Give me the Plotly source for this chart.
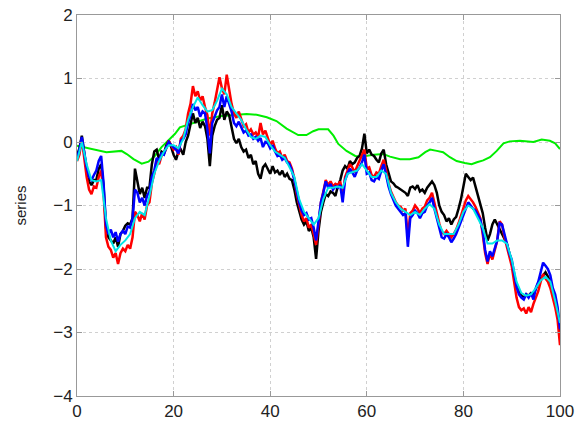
import numpy as np
import plotly.graph_objects as go

# Sample grid for the three noisy paths (step 0.5 from 0 to 100)
x_fine = np.arange(0, 100.5, 0.5)

red_vals = [
    -0.3, -0.2, 0.05, -0.25, -0.55, -0.75, -0.82, -0.7, -0.72, -0.55,
    -0.45, -0.8, -1.5, -1.65, -1.7, -1.82, -1.75, -1.92, -1.75, -1.68,
    -1.72, -1.62, -1.68, -1.5, -1.1, -1.15, -1.25, -1.12, -1.22, -1.0,
    -0.95, -0.65, -0.5, -0.3, -0.35, -0.22, -0.18, -0.1, 0.02, -0.05,
    -0.12, -0.08, -0.2, 0.05, 0.1, 0.2, 0.45, 0.6, 0.88, 0.72,
    0.8, 0.65, 0.72, 0.55, 0.42, 0.1, 0.45, 0.62, 0.8, 1.02,
    0.85, 0.75, 1.06, 0.82, 0.6, 0.45, 0.38, 0.48, 0.35, 0.25,
    0.28, 0.15, 0.2, 0.12, 0.15, 0.08, 0.3, 0.12, 0.18, 0.05,
    -0.05, 0.02, -0.1, -0.18, -0.15, -0.25, -0.2, -0.3, -0.32, -0.42,
    -0.58, -0.82, -1.0, -1.15, -1.25, -1.2, -1.35, -1.3, -1.45, -1.62,
    -1.3, -0.95, -0.78, -0.6, -0.68, -0.62, -0.7, -0.66, -0.68, -0.62,
    -0.85, -0.55, -0.45, -0.35, -0.4, -0.48, -0.38, -0.3, -0.22, -0.12,
    -0.42, -0.4, -0.52, -0.55, -0.48, -0.5, -0.38, -0.28, -0.45, -0.65,
    -0.78, -0.88, -0.95, -1.0, -1.02, -1.08, -1.05, -1.5, -1.12, -1.08,
    -1.0, -1.05, -1.12, -1.05, -1.02, -0.92, -0.88, -0.8, -0.98, -1.12,
    -1.28, -1.42, -1.45, -1.4, -1.45, -1.5, -1.45, -1.38, -1.28, -1.15,
    -1.02, -0.92, -0.85, -0.9, -0.95, -1.02, -1.1, -1.2, -1.45, -1.75,
    -1.92, -1.75, -1.85, -1.72, -1.55, -1.25, -1.3, -1.5, -1.65, -1.8,
    -1.95, -2.2, -2.45, -2.6, -2.65, -2.62, -2.7, -2.6, -2.68, -2.55,
    -2.45, -2.35, -2.2, -2.08, -2.15, -2.2, -2.3, -2.45, -2.6, -2.8,
    -3.2,
]

black_vals = [
    -0.22, -0.1, 0.1, -0.2, -0.45, -0.62, -0.68, -0.6, -0.6, -0.42,
    -0.35, -0.7, -1.35, -1.5, -1.55, -1.6, -1.5, -1.65, -1.45, -1.4,
    -1.32, -1.28, -1.3, -1.2, -0.42, -0.62, -0.82, -0.72, -0.88, -0.72,
    -0.72, -0.35, -0.15, -0.12, -0.28, -0.15, -0.18, -0.05, 0.02, -0.08,
    -0.2, -0.28, -0.15, -0.12, -0.2, 0.0, 0.1, 0.28, 0.45, 0.3,
    0.38, 0.22, 0.32, 0.25, 0.05, -0.38, 0.1, 0.25, 0.35, 0.38,
    0.58, 0.35, 0.48, 0.42, 0.25, 0.05, -0.02, 0.05, -0.08, -0.15,
    -0.12, -0.25, -0.2, -0.35, -0.3, -0.5, -0.58, -0.4, -0.35, -0.42,
    -0.5, -0.38, -0.48, -0.45, -0.52, -0.45, -0.55, -0.5, -0.58, -0.6,
    -0.75, -0.95, -1.1, -1.22, -1.3, -1.25, -1.4, -1.35, -1.5, -1.84,
    -1.4, -1.1, -0.95, -0.82, -0.85, -0.78, -0.8, -0.85, -0.7, -0.6,
    -0.45, -0.38, -0.42, -0.3, -0.35, -0.32, -0.25, -0.22, -0.1, 0.13,
    -0.18, -0.12, -0.2, -0.22, -0.28, -0.32, -0.18, -0.12, -0.35, -0.5,
    -0.62, -0.65, -0.7, -0.72, -0.75, -0.78, -0.8, -0.85, -0.72, -0.7,
    -0.74, -0.68, -0.78, -0.75, -0.8, -0.72, -0.66, -0.62, -0.68, -0.8,
    -1.0, -1.1, -1.15, -1.25, -1.2, -1.3, -1.22, -1.18, -1.05, -0.9,
    -0.7, -0.5, -0.55, -0.6, -0.56, -0.7, -0.85, -1.0, -1.12, -1.35,
    -1.55, -1.45, -1.3, -1.22, -1.3, -1.38, -1.45, -1.52, -1.6, -1.75,
    -1.9, -2.1, -2.25, -2.35, -2.42, -2.45, -2.4, -2.42, -2.38, -2.4,
    -2.3, -2.22, -2.15, -2.1, -2.05, -2.12, -2.2, -2.35, -2.5, -2.7,
    -3.0,
]

blue_vals = [
    -0.25, -0.12, 0.08, -0.15, -0.4, -0.55, -0.6, -0.52, -0.45, -0.3,
    -0.22, -0.65, -1.3, -1.45, -1.38, -1.5, -1.42, -1.57, -1.45, -1.4,
    -1.45, -1.33, -1.35, -1.2, -0.75, -0.8, -0.95, -0.88, -1.0, -0.85,
    -0.78, -0.55, -0.45, -0.25, -0.3, -0.18, -0.2, -0.08, 0.0, -0.05,
    -0.08, -0.12, -0.18, 0.02, 0.05, 0.12, 0.3, 0.42, 0.6, 0.5,
    0.55, 0.4, 0.48, 0.45, 0.2, -0.18, 0.3, 0.4, 0.5, 0.55,
    0.75, 0.55, 0.72, 0.6, 0.48, 0.3, 0.25, 0.32, 0.22, 0.15,
    0.18, 0.1, 0.12, 0.05, 0.08, 0.02, 0.06, -0.08, 0.0, -0.02,
    -0.1, -0.05, -0.15, -0.22, -0.2, -0.28, -0.25, -0.32, -0.35, -0.45,
    -0.6, -0.8, -0.95, -1.08, -1.15, -1.12, -1.22, -1.2, -1.35, -1.55,
    -1.25, -0.95, -0.8, -0.62, -0.72, -0.66, -0.75, -0.7, -0.72, -0.68,
    -0.95, -0.6, -0.5, -0.42, -0.48, -0.55, -0.45, -0.4, -0.32, -0.2,
    -0.5, -0.48, -0.6, -0.62, -0.55, -0.58, -0.45, -0.35, -0.52, -0.7,
    -0.82, -0.92, -1.0, -1.05, -1.1, -1.15, -1.12, -1.65, -1.2, -1.15,
    -1.08, -1.12, -1.2, -1.12, -1.1, -1.0, -0.95, -0.88, -1.05, -1.2,
    -1.35, -1.5, -1.52, -1.45, -1.5, -1.58, -1.52, -1.45, -1.35, -1.25,
    -1.12, -1.05, -0.95, -1.0, -1.05, -1.08, -1.15, -1.22, -1.4, -1.7,
    -1.88, -1.72, -1.8, -1.68, -1.55, -1.28, -1.3, -1.45, -1.6, -1.75,
    -1.85, -2.05, -2.28, -2.4, -2.45, -2.48, -2.4, -2.45, -2.38, -2.48,
    -2.3, -2.2, -2.05, -1.9, -1.95, -2.0, -2.1, -2.3, -2.4, -2.6,
    -2.95,
]

# Smoothed path, one value per unit step
x_unit = np.arange(0, 101, 1)
cyan_vals = [
    -0.3, 0.0, -0.35, -0.6, -0.62, -0.6, -1.2, -1.55, -1.72, -1.62,
    -1.55, -1.45, -1.2, -1.1, -1.15, -0.85, -0.5, -0.3, -0.15, -0.05,
    -0.05, -0.1, 0.05, 0.35, 0.55, 0.7, 0.58, 0.48, 0.5, 0.65,
    0.84, 0.75, 0.55, 0.45, 0.35, 0.2, 0.08, 0.05, 0.1, 0.08,
    -0.05, -0.15, -0.2, -0.25, -0.4, -0.55, -0.9, -1.1, -1.2, -1.3,
    -1.2, -0.9, -0.72, -0.72, -0.7, -0.72, -0.5, -0.48, -0.45, -0.35,
    -0.45, -0.55, -0.55, -0.45, -0.5, -0.8, -0.95, -1.05, -1.1, -1.15,
    -1.1, -1.15, -1.05, -0.98, -1.05, -1.3, -1.45, -1.45, -1.45, -1.3,
    -1.1, -1.0, -1.05, -1.2, -1.35, -1.6, -1.6, -1.55, -1.55, -1.6,
    -1.85, -2.2, -2.38, -2.42, -2.4, -2.3, -2.18, -2.12, -2.2, -2.5,
    -2.85,
]

# Slow-varying path
green_x = [0, 3.4, 6.1, 9.2, 10.3, 11.7, 13.4, 14.8, 16.1, 17.5, 18.9, 20.3,
           21.3, 24, 27, 30, 33, 35.1, 37.2, 39.3, 41.3, 43.4, 45.8, 47.5,
           48.9, 50, 52, 53.1, 54.1, 55.8, 57.6, 59, 61.4, 63.4, 64.8, 66.9,
           68.9, 70.7, 72.1, 73.1, 74.5, 75.8, 77.2, 78.6, 80.3, 81.7, 82.8,
           84.1, 85.5, 86.9, 88.3, 89.6, 91.7, 93.8, 94.5, 96.2, 97.9, 99, 100]
green_vals = [-0.06, -0.12, -0.16, -0.14, -0.19, -0.27, -0.34, -0.31, -0.22,
              -0.08, 0.02, 0.13, 0.23, 0.3, 0.37, 0.41, 0.43, 0.44, 0.43,
              0.39, 0.33, 0.21, 0.11, 0.11, 0.17, 0.2, 0.2, 0.1, -0.03,
              -0.14, -0.22, -0.23, -0.2, -0.19, -0.23, -0.27, -0.27, -0.24,
              -0.16, -0.12, -0.14, -0.16, -0.24, -0.3, -0.33, -0.35, -0.32,
              -0.29, -0.24, -0.14, -0.02, 0.01, 0.02, 0.01, 0.0, 0.04, 0.02,
              -0.02, -0.11]

x_ticks = [0, 20, 40, 60, 80, 100]
y_ticks = [-4, -3, -2, -1, 0, 1, 2]

fig = go.Figure()
fig.add_trace(go.Scatter(x=green_x, y=green_vals, mode="lines",
                         line=dict(color="#00ee00", width=2)))
fig.add_trace(go.Scatter(x=x_fine, y=black_vals, mode="lines",
                         line=dict(color="#000000", width=2.5)))
fig.add_trace(go.Scatter(x=x_fine, y=red_vals, mode="lines",
                         line=dict(color="#ff0000", width=2.5)))
fig.add_trace(go.Scatter(x=x_fine, y=blue_vals, mode="lines",
                         line=dict(color="#0000ff", width=2.5)))
fig.add_trace(go.Scatter(x=x_unit, y=cyan_vals, mode="lines",
                         line=dict(color="#00e6e6", width=2)))

axis_common = dict(
    automargin=False,
    showline=True, linecolor="#999999", linewidth=1, mirror="ticks",
    ticks="inside", ticklen=5, tickcolor="#999999",
    showgrid=True, gridcolor="#d0d0d0", griddash="dot", gridwidth=1,
    zeroline=False,
    tickfont=dict(family="Liberation Sans, Arial, sans-serif", size=17, color="#222222"),
)

fig.update_layout(
    width=577, height=426,
    margin=dict(l=77, r=17, t=15, b=30, autoexpand=False),
    paper_bgcolor="white", plot_bgcolor="white",
    showlegend=False,
    xaxis=dict(range=[0, 100], tickvals=x_ticks, **axis_common),
    yaxis=dict(range=[-4, 2], tickvals=y_ticks,
               title=dict(text="series", standoff=22,
                          font=dict(family="Liberation Sans, Arial, sans-serif",
                                    size=15, color="#222222")),
               **axis_common),
)

fig.write_html("out.html")
